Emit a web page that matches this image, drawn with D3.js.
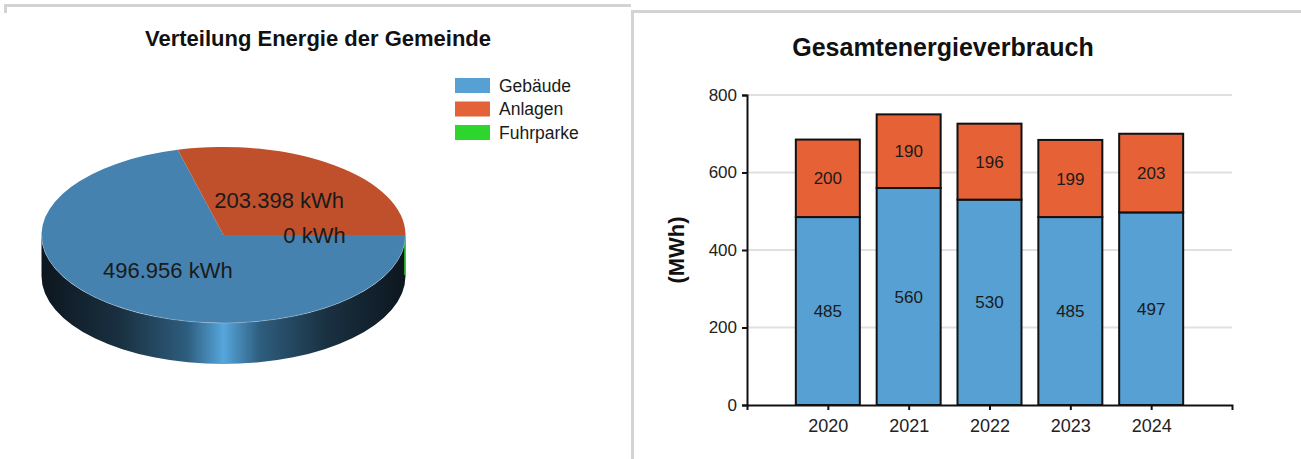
<!DOCTYPE html>
<html>
<head>
<meta charset="utf-8">
<script src="https://cdn.jsdelivr.net/npm/d3@7"></script>
<style>
  html, body { margin: 0; padding: 0; background: #fff; }
  svg { display: block; font-family: "Liberation Sans", Arial, sans-serif; }
</style>
</head>
<body>
<svg id="chart" width="1301" height="459"></svg>
<script>
// Pie: energy split of the municipality (kWh)
const pieCategories = ["Gebäude", "Anlagen", "Fuhrparke"];
const pieValues = [496956, 203398, 0];
const pieColors = ["#4682b0", "#c0502b", "#2dd62d"];
const legendColors = ["#56a0d3", "#e4623a", "#2dd62d"];

// Bars: total energy consumption per year (MWh)
const years = ["2020", "2021", "2022", "2023", "2024"];
const gebaeude = [485, 560, 530, 485, 497];
const anlagen = [200, 190, 196, 199, 203];
const yTicks = [0, 200, 400, 600, 800];
const barColors = ["#56a0d3", "#e66236"];

const svg = d3.select("#chart");
const fmt = d3.formatLocale({ decimal: ",", thousands: ".", grouping: [3], currency: ["", "€"] }).format(",d");

// panel frames
const border = "#d3d3d3";
svg.append("path").attr("d", "M5.5,13V5.5H631").attr("fill", "none").attr("stroke", border).attr("stroke-width", 3);
svg.append("path").attr("d", "M632.5,459V11.5H1301").attr("fill", "none").attr("stroke", border).attr("stroke-width", 3);

// ---------- 3D pie ----------
svg.append("text").attr("x", 318).attr("y", 46).attr("text-anchor", "middle")
  .attr("font-size", 22).attr("font-weight", "bold").attr("fill", "#111")
  .text("Verteilung Energie der Gemeinde");

const cx = 223.5, cy = 235, rx = 182, ry = 88, depth = 41;
const defs = svg.append("defs");
const grad = defs.append("linearGradient").attr("id", "side").attr("x1", 0).attr("x2", 1).attr("y1", 0).attr("y2", 0);
[[0, "#0c161e"], [0.22, "#1a3142"], [0.40, "#2e5d7e"], [0.5, "#56a6dc"], [0.60, "#2e5d7e"], [0.78, "#1a3142"], [1, "#0c161e"]]
  .forEach(([o, c]) => grad.append("stop").attr("offset", o).attr("stop-color", c));

const pie = d3.pie().sort(null).startAngle(Math.PI / 2).endAngle(Math.PI / 2 + 2 * Math.PI);
const arcs = pie(pieValues);

// side wall (front half)
svg.append("path")
  .attr("d", `M${cx + rx},${cy} A${rx},${ry} 0 0 1 ${cx - rx},${cy} L${cx - rx},${cy + depth} A${rx},${ry} 0 0 0 ${cx + rx},${cy + depth} Z`)
  .attr("fill", "url(#side)");
// zero-size slice edge on the wall
svg.append("line").attr("x1", cx + rx - 0.5).attr("x2", cx + rx - 0.5).attr("y1", cy).attr("y2", cy + depth - 1)
  .attr("stroke", pieColors[2]).attr("stroke-width", 1.5);

const arc = d3.arc().innerRadius(0).outerRadius(rx);
const pieTop = svg.append("g").attr("transform", `translate(${cx},${cy}) scale(1,${ry / rx})`);
pieTop.selectAll("path").data(arcs).join("path")
  .attr("d", arc).attr("fill", (d, i) => pieColors[i]);
// faint rim on the front edge
svg.append("path").attr("d", `M${cx + rx},${cy} A${rx},${ry} 0 0 1 ${cx - rx},${cy}`)
  .attr("fill", "none").attr("stroke", "rgba(255,255,255,0.25)").attr("stroke-width", 1);

svg.selectAll("text.pl").data(arcs).join("text").attr("class", "pl")
  .attr("x", d => cx + arc.centroid(d)[0])
  .attr("y", d => cy + arc.centroid(d)[1] * ry / rx)
  .attr("dy", "0.36em").attr("text-anchor", "middle")
  .attr("font-size", 22).attr("fill", "#1a1a1a")
  .text(d => fmt(d.data) + " kWh");

// legend
const lg = svg.append("g").selectAll("g").data(pieCategories).join("g")
  .attr("transform", (d, i) => `translate(455,${78 + i * 23.5})`);
lg.append("rect").attr("width", 35).attr("height", 15).attr("fill", (d, i) => legendColors[i]);
lg.append("text").attr("x", 44).attr("y", 7.5).attr("dy", "0.36em")
  .attr("font-size", 17.5).attr("fill", "#1a1a1a").text(d => d);

// ---------- stacked bars ----------
svg.append("text").attr("x", 943).attr("y", 56).attr("text-anchor", "middle")
  .attr("font-size", 25).attr("font-weight", "bold").attr("fill", "#111")
  .text("Gesamtenergieverbrauch");

const x = d3.scalePoint().domain(years).range([747, 1232]).padding(1);
const y = d3.scaleLinear().domain([0, 800]).range([405, 95]);
const barW = 64;

// gridlines
svg.append("g").selectAll("line").data(yTicks.slice(1)).join("line")
  .attr("x1", 747).attr("x2", 1232).attr("y1", d => y(d)).attr("y2", d => y(d))
  .attr("stroke", "#e0e0e0").attr("stroke-width", 2);

const stack = d3.stack().keys([0, 1]).value((d, k) => d[k]);
const rows = years.map((yr, i) => [gebaeude[i], anlagen[i]]);
const series = stack(rows);

series.forEach((s, k) => {
  const g = svg.append("g");
  g.selectAll("rect").data(s).join("rect")
    .attr("x", (d, i) => x(years[i]) - barW / 2)
    .attr("y", d => y(d[1]))
    .attr("width", barW)
    .attr("height", d => y(d[0]) - y(d[1]))
    .attr("fill", barColors[k]).attr("stroke", "#111").attr("stroke-width", 2);
  g.selectAll("text").data(s).join("text")
    .attr("x", (d, i) => x(years[i]))
    .attr("y", d => (y(d[0]) + y(d[1])) / 2)
    .attr("dy", "0.36em").attr("text-anchor", "middle")
    .attr("font-size", 17).attr("fill", "#1a1a1a")
    .text(d => d[1] - d[0]);
});

const yAxis = svg.append("g").attr("transform", "translate(747,0)")
  .call(d3.axisLeft(y).tickValues(yTicks).tickSize(5).tickPadding(5));
const xAxis = svg.append("g").attr("transform", "translate(0,405)")
  .call(d3.axisBottom(x).tickSize(5).tickPadding(9));
[yAxis, xAxis].forEach(a => {
  a.selectAll("path, line").attr("stroke", "#111").attr("stroke-width", 2);
  a.selectAll("text").attr("fill", "#222").attr("font-family", "Liberation Sans, Arial, sans-serif");
});
yAxis.selectAll("text").attr("font-size", 17);
xAxis.selectAll("text").attr("font-size", 18);

svg.append("text").attr("transform", "translate(676,250) rotate(-90)")
  .attr("dy", "0.36em").attr("text-anchor", "middle")
  .attr("font-size", 22).attr("font-weight", "bold").attr("fill", "#111")
  .text("(MWh)");
</script>
</body>
</html>
